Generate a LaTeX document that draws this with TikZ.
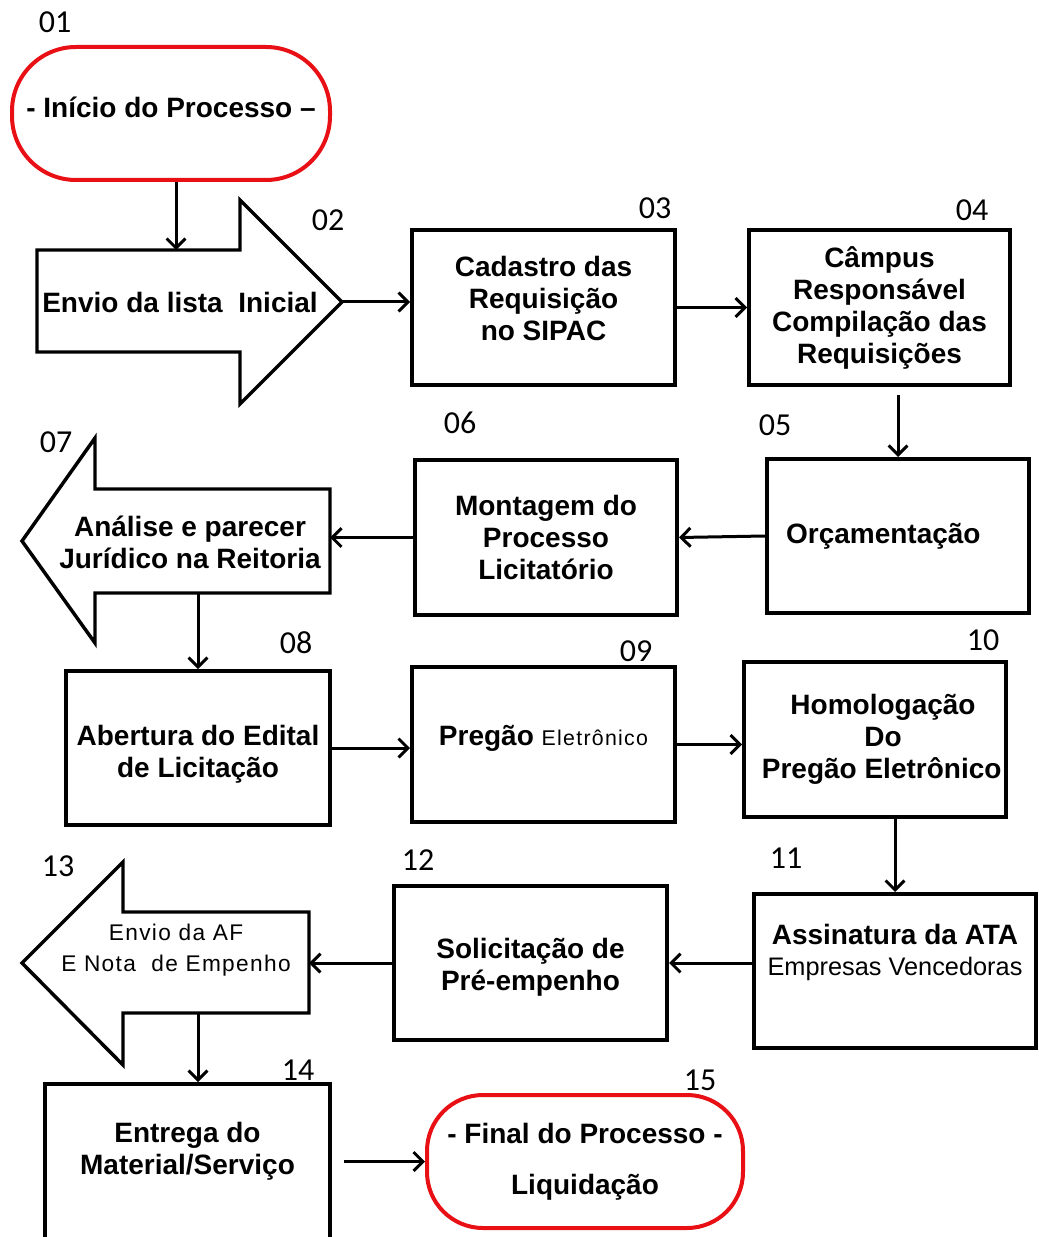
\documentclass[tikz,border=0pt]{standalone}
\usepackage{fontspec}
\setmainfont{Liberation Sans}
\newfontfamily\numfont{Carlito}
\newfontfamily\spaced[LetterSpace=6]{Liberation Sans}
\usetikzlibrary{arrows.meta,calc}
\definecolor{termred}{RGB}{232,16,20}
\tikzset{
 box/.style={draw, line width=3pt, inner sep=0pt, align=center, font=\bfseries\fontsize{21}{24}\selectfont},
 term/.style={draw=termred, line width=3pt, inner sep=0pt, align=center, font=\bfseries\fontsize{21}{24}\selectfont},
 bigarrow/.style={draw, line width=2.6pt, line join=miter},
 arr/.style={line width=2.25pt, -{Straight Barb[length=7pt,width=14pt]}},
 num/.style={font=\numfont\fontsize{24}{28}\selectfont, inner sep=0pt},
 txt/.style={align=center, font=\bfseries\fontsize{21}{24}\selectfont, inner sep=0pt},
}
\begin{document}
\begin{tikzpicture}[x=0.75pt,y=-0.75pt]
\useasboundingbox (0,0) rectangle (1038,1237);
\clip (0,0) rectangle (1038,1237);
\fill[white] (0,0) rectangle (1038,1237);

% terminators
\node[term, rounded corners=48pt, minimum width=238.5pt, minimum height=99.75pt] (n01) at (171,113.5) {- Início do Processo –\\[-14pt]~};
\node[term, rounded corners=42pt, minimum width=237pt, minimum height=99.75pt] (n15) at (585,1161.5) {- Final do Processo -\\[14pt]Liquidação};

% big arrows
\draw[bigarrow] (37,250) -- (240,250) -- (240,200) -- (342,302) -- (240,404) -- (240,352) -- (37,352) -- cycle;
\node[txt] (n02) at (180,302) {Envio da lista\ \ Inicial};
\coordinate (a02top) at (176,250);
\coordinate (a02tip) at (342,302);

\draw[bigarrow] (330,489) -- (95,489) -- (95,438) -- (22,541) -- (95,643) -- (95,593) -- (330,593) -- cycle;
\node[txt] (n07) at (190,542) {Análise e parecer\\Jurídico na Reitoria};
\coordinate (a07east) at (330,541);
\coordinate (a07bot) at (198,593);

\draw[bigarrow] (309,912) -- (123,912) -- (123,862) -- (22,963) -- (123,1065) -- (123,1013) -- (309,1013) -- cycle;
\node[txt, font=\spaced\fontsize{17}{23}\selectfont] (n13) at (176,950) {Envio da AF\\E Nota\ \ de Empenho};
\coordinate (a13east) at (309,963);
\coordinate (a13bot) at (198,1013);

% boxes
\node[box, minimum width=197.25pt, minimum height=116.25pt] (n03) at (543.5,307.5) {Cadastro das\\Requisição\\no SIPAC\\[-11pt]~};
\node[box, minimum width=195.75pt, minimum height=116.25pt] (n04) at (879.5,307.5) {Câmpus\\Responsável\\Compilação das\\Requisições};
\node[box, minimum width=196.5pt, minimum height=115.5pt] (n05) at (898,536) {\raisebox{-5pt}{Orçamentação}\hspace*{22pt}};
\node[box, minimum width=196.5pt, minimum height=116.25pt] (n06) at (546,537.5) {Montagem do\\Processo\\Licitatório};
\node[box, minimum width=198pt, minimum height=115.5pt] (n08) at (198,748) {Abertura do Edital\\de Licitação\\[-28.5pt]~};
\node[box, minimum width=197.25pt, minimum height=116.25pt] (n09) at (543.5,744.5) {Pregão {\mdseries\spaced\fontsize{16}{24}\selectfont Eletrônico}\\[-10pt]~};
\node[box, minimum width=196.5pt, minimum height=116.25pt] (n10) at (875,739.5) {\hspace*{12pt}Homologação\\\hspace*{12pt}Do\\\hspace*{10pt}Pregão Eletrônico};
\node[box, minimum width=211.5pt, minimum height=115.5pt] (n11) at (895,971) {Assinatura da ATA\\[-1pt]{\mdseries\fontsize{19}{24}\selectfont Empresas Vencedoras}\\[8pt]~};
\node[box, minimum width=204.75pt, minimum height=115.5pt] (n12) at (530.5,963) {Solicitação de\\Pré-empenho\\[-25.5pt]~};
\node[box, minimum width=213.75pt, minimum height=124.5pt] (n14) at (187.5,1167) {Entrega do\\Material/Serviço\\[4pt]~};

% connectors
\draw[arr] (n01.south -| a02top) -- (a02top);
\draw[arr] (a02tip) -- (a02tip -| n03.west);
\draw[arr] (n03.east) -- (n04.west);
\draw[arr, shorten <=6pt] (n05.north |- n04.south) -- (n05.north);
\draw[arr] (n05.west) -- (n06.east);
\draw[arr] (n06.west) -- (n06.west -| a07east);
\draw[arr] (a07bot) -- (a07bot |- n08.north);
\draw[arr] (n08.east) -- (n08.east -| n09.west);
\draw[arr] (n09.east) -- (n09.east -| n10.west);
\draw[arr] (n11.north |- n10.south) -- (n11.north);
\draw[arr] (n12.east -| n11.west) -- (n12.east);
\draw[arr] (n12.west) -- (n12.west -| a13east);
\draw[arr] (a13bot) -- (a13bot |- n14.north);
\draw[arr, shorten <=9pt] (n14.east |- n15.west) -- (n15.west);

% step numbers
\node[num] (l01) at (55,22) {01};
\node[num] (l02) at (328,220) {02};
\node[num] (l03) at (655,208) {03};
\node[num] (l04) at (972,210) {04};
\node[num] (l05) at (775,425) {05};
\node[num] (l06) at (460,423) {06};
\node[num] (l07) at (56,442) {07};
\node[num] (l08) at (296,643) {08};
\node[num] (l09) at (636,651) {09};
\node[num] (l10) at (983,640) {10};
\node[num] (l11) at (786,858) {11};
\node[num] (l12) at (418,860) {12};
\node[num] (l13) at (58,866) {13};
\node[num] (l14) at (298,1070) {14};
\node[num] (l15) at (700,1080) {15};
\end{tikzpicture}
\end{document}
